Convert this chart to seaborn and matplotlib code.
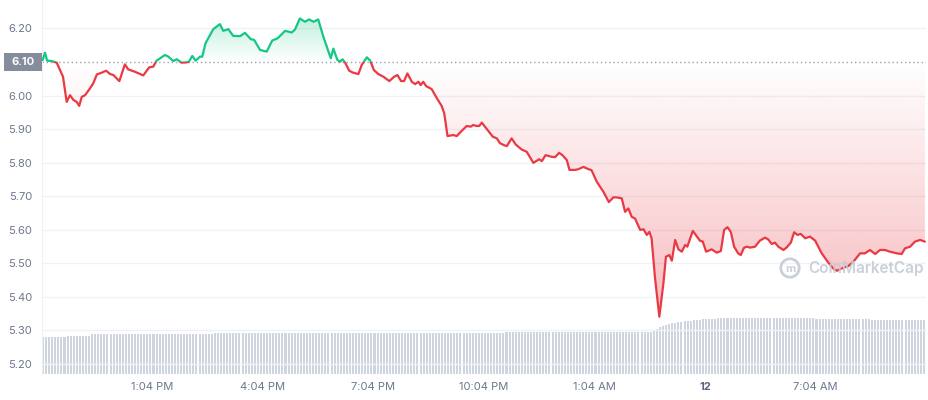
import numpy as np
import matplotlib
matplotlib.use("Agg")
import matplotlib.pyplot as plt
import matplotlib.transforms as mtransforms
from matplotlib.patches import Rectangle, Circle
from matplotlib.colors import to_rgb
import seaborn as sns

# price trace, hours since 10:04 AM
hours = [0.02, 0.08, 0.14, 0.26, 0.40, 0.49, 0.57, 0.67, 0.76, 0.85, 0.94, 1.01, 1.08, 1.17, 1.30,
         1.39, 1.49, 1.62, 1.74, 1.85, 1.94, 2.10, 2.25, 2.34, 2.52, 2.75, 2.91, 3.02, 3.11, 3.34,
         3.43, 3.56, 3.66, 3.79, 3.93, 3.99, 4.08, 4.17, 4.29, 4.35, 4.44, 4.65, 4.83, 4.92, 5.06,
         5.19, 5.38, 5.51, 5.67, 5.76, 5.92, 6.10, 6.25, 6.40, 6.60, 6.78, 6.87, 7.00, 7.14, 7.25,
         7.37, 7.50, 7.64, 7.84, 7.91, 8.02, 8.09, 8.16, 8.23, 8.34, 8.45, 8.59, 8.68, 8.82, 8.91,
         9.01, 9.13, 9.27, 9.43, 9.56, 9.65, 9.75, 9.83, 9.92, 10.04, 10.13, 10.22, 10.28, 10.35, 10.43,
         10.58, 10.72, 10.85, 10.92, 11.01, 11.17, 11.26, 11.39, 11.53, 11.64, 11.71, 11.80, 11.87, 11.94, 12.06,
         12.24, 12.35, 12.43, 12.54, 12.62, 12.75, 12.86, 13.02, 13.16, 13.34, 13.50, 13.57, 13.67, 13.84, 13.93,
         14.04, 14.13, 14.25, 14.32, 14.47, 14.56, 14.70, 14.82, 14.92, 15.06, 15.24, 15.39, 15.51, 15.60, 15.74,
         15.83, 15.92, 16.01, 16.10, 16.24, 16.33, 16.42, 16.49, 16.55, 16.64, 16.76, 16.87, 16.94, 17.03, 17.10,
         17.19, 17.28, 17.37, 17.46, 17.52, 17.67, 17.78, 17.86, 17.94, 18.03, 18.18, 18.32, 18.43, 18.52, 18.61,
         18.70, 18.79, 18.90, 18.97, 19.06, 19.15, 19.22, 19.36, 19.49, 19.63, 19.72, 19.81, 19.90, 19.99, 20.13,
         20.22, 20.33, 20.42, 20.51, 20.60, 20.72, 20.85, 20.99, 21.17, 21.35, 21.48, 21.58, 21.71, 21.89, 22.03,
         22.21, 22.34, 22.48, 22.62, 22.75, 22.89, 23.02, 23.21, 23.34, 23.43, 23.57, 23.70, 23.84, 23.97]
price = [6.106, 6.128, 6.104, 6.103, 6.098, 6.076, 6.056, 5.981, 6.001, 5.987, 5.981, 5.969, 5.996, 6.001, 6.021,
         6.036, 6.063, 6.068, 6.074, 6.064, 6.061, 6.043, 6.093, 6.078, 6.071, 6.060, 6.084, 6.086, 6.104, 6.121,
         6.116, 6.103, 6.108, 6.098, 6.099, 6.101, 6.118, 6.104, 6.116, 6.116, 6.156, 6.198, 6.213, 6.193, 6.198,
         6.178, 6.177, 6.187, 6.168, 6.166, 6.136, 6.131, 6.164, 6.171, 6.193, 6.188, 6.197, 6.230, 6.220, 6.227,
         6.220, 6.227, 6.175, 6.111, 6.140, 6.106, 6.101, 6.108, 6.098, 6.074, 6.068, 6.064, 6.091, 6.114, 6.104,
         6.076, 6.064, 6.056, 6.043, 6.056, 6.061, 6.043, 6.043, 6.066, 6.041, 6.034, 6.041, 6.031, 6.041, 6.028,
         6.019, 5.992, 5.969, 5.947, 5.879, 5.882, 5.879, 5.894, 5.909, 5.907, 5.912, 5.909, 5.909, 5.919, 5.902,
         5.877, 5.872, 5.858, 5.852, 5.849, 5.872, 5.854, 5.839, 5.832, 5.799, 5.810, 5.804, 5.822, 5.817, 5.816,
         5.829, 5.822, 5.807, 5.778, 5.778, 5.780, 5.787, 5.781, 5.777, 5.743, 5.713, 5.682, 5.696, 5.696, 5.693,
         5.653, 5.663, 5.638, 5.633, 5.599, 5.601, 5.584, 5.593, 5.574, 5.459, 5.340, 5.439, 5.519, 5.524, 5.507,
         5.569, 5.541, 5.534, 5.554, 5.549, 5.596, 5.579, 5.567, 5.564, 5.534, 5.541, 5.531, 5.536, 5.599, 5.607,
         5.593, 5.549, 5.529, 5.524, 5.546, 5.549, 5.546, 5.549, 5.567, 5.576, 5.570, 5.557, 5.561, 5.549, 5.539,
         5.547, 5.561, 5.592, 5.584, 5.587, 5.574, 5.579, 5.567, 5.529, 5.501, 5.484, 5.477, 5.484, 5.491, 5.504,
         5.529, 5.529, 5.539, 5.527, 5.539, 5.539, 5.534, 5.529, 5.527, 5.544, 5.549, 5.564, 5.569, 5.564]
open_price = 6.10

# volume, one bar every 5 minutes (arbitrary units)
volume = [
    37.3, 37.3, 37.3, 37.3, 37.3, 37.3, 37.3, 37.3, 38.3, 38.3, 38.3, 38.3,
    38.3, 38.3, 38.3, 38.3, 39.7, 39.7, 39.7, 39.7, 39.7, 39.7, 39.7, 39.7,
    39.7, 39.7, 39.7, 39.7, 39.7, 39.7, 39.7, 39.7, 39.7, 39.7, 39.7, 39.7,
    39.7, 39.7, 39.7, 39.7, 39.7, 39.7, 39.7, 39.7, 39.7, 39.7, 39.7, 39.7,
    39.7, 39.7, 39.7, 39.7, 39.7, 39.7, 39.7, 39.7, 40.7, 40.7, 40.7, 40.7,
    40.7, 40.7, 40.7, 40.7, 40.7, 40.7, 40.7, 40.7, 40.7, 40.7, 40.7, 40.7,
    40.7, 40.7, 40.7, 40.7, 40.7, 40.7, 40.7, 40.7, 40.7, 40.7, 40.7, 40.7,
    40.7, 40.7, 40.7, 40.7, 40.7, 40.7, 40.7, 40.7, 40.7, 40.7, 40.7, 40.7,
    40.7, 40.7, 40.7, 40.7, 40.7, 40.7, 40.7, 40.7, 40.7, 40.7, 40.7, 40.7,
    40.7, 40.7, 40.7, 40.7, 40.7, 40.7, 40.7, 40.7, 40.7, 40.7, 40.7, 40.7,
    40.7, 40.7, 40.7, 40.7, 40.7, 40.7, 40.7, 40.7, 40.7, 40.7, 40.7, 40.7,
    40.7, 40.7, 40.7, 40.7, 40.7, 40.7, 40.7, 40.7, 40.7, 40.7, 40.7, 40.7,
    40.7, 40.7, 40.7, 40.7, 40.7, 40.7, 40.7, 42.0, 42.0, 42.0, 42.0, 42.0,
    42.0, 42.0, 42.0, 42.0, 42.0, 42.0, 42.0, 42.0, 42.0, 42.0, 42.0, 42.0,
    42.0, 42.0, 42.0, 42.0, 42.0, 42.0, 42.0, 42.0, 42.0, 42.0, 42.0, 42.0,
    42.0, 42.0, 42.0, 42.0, 42.0, 42.0, 42.0, 42.0, 42.0, 42.0, 42.0, 42.0,
    42.0, 42.0, 42.0, 42.3, 42.3, 42.3, 42.3, 43.5, 45.5, 47.5, 48.5, 49.3,
    50.2, 50.7, 51.2, 51.7, 52.2, 52.7, 53.0, 53.3, 53.7, 54.0, 54.3, 54.6,
    54.9, 55.1, 55.3, 55.5, 55.6, 55.7, 55.8, 56.0, 56.1, 56.2, 56.3, 56.3,
    56.3, 56.3, 56.3, 56.3, 56.3, 56.3, 56.3, 56.3, 56.3, 56.3, 56.3, 56.3,
    56.3, 56.3, 56.3, 56.3, 56.3, 56.3, 56.3, 56.2, 56.2, 56.2, 56.2, 56.2,
    55.0, 55.0, 55.0, 55.0, 55.0, 55.0, 55.0, 55.0, 55.0, 55.0, 55.0, 55.0,
    54.8, 54.8, 54.8, 54.8, 54.8, 54.8, 54.5, 54.5, 54.5, 54.5, 54.5, 54.5,
    54.3, 54.3, 54.3, 54.3, 54.3, 54.3, 54.0, 54.0, 54.0, 54.0, 54.0, 54.0,
]

ytick_vals = [5.20, 5.30, 5.40, 5.50, 5.60, 5.70, 5.80, 5.90, 6.00, 6.20]
xtick_vals = [3, 6, 9, 12, 15, 18, 21]
xtick_labels = ["1:04 PM", "4:04 PM", "7:04 PM", "10:04 PM", "1:04 AM", "12", "7:04 AM"]

GREEN = "#16c784"
RED = "#ea3943"
LABEL = "#6b778c"
YMIN, YMAX = 5.169, 6.285

sns.set_style("white")
plt.rcParams["font.family"] = ["Inter", "DejaVu Sans"]

fig = plt.figure(figsize=(9.29, 4.0), dpi=100)
ax = fig.add_axes([42 / 929, 26 / 400, 884 / 929, 374 / 400])
ax2 = ax.twinx()

# volume bars underneath the price axis
n = len(volume)
bar_x = np.arange(n) * 24 / n
ax2.bar(bar_x, volume, width=24 / n * 0.66, align="edge", color="#cfd5df", linewidth=0)
ax2.set_ylim(0, 374)
ax2.set_xlim(0, 24)
ax2.set_yticks([])
for s in ax2.spines.values():
    s.set_visible(False)
ax.set_zorder(ax2.get_zorder() + 1)
ax.patch.set_visible(False)

# gradient fill between price and the open price
yy = np.linspace(YMIN, YMAX, 500)
rgba = np.zeros((500, 1, 4))
above = yy >= open_price
rgba[above, 0, :3] = to_rgb(GREEN)
rgba[~above, 0, :3] = to_rgb(RED)
rgba[above, 0, 3] = np.clip((yy[above] - open_price) * 2.0, 0, 0.3)
rgba[~above, 0, 3] = np.clip((open_price - yy[~above]) * 0.45, 0, 0.3)
im = ax.imshow(rgba, extent=[0, 24, YMIN, YMAX], origin="lower", aspect="auto",
               interpolation="bilinear", zorder=1)
poly = ax.fill_between(hours, price, open_price, color="none")
im.set_clip_path(poly.get_paths()[0], ax.transData)
poly.remove()

# grid + open price reference line
for v in ytick_vals:
    ax.axhline(v, color="#eff2f5", lw=1, zorder=0.5)
ax.axhline(open_price, color="#9aa3b5", lw=1, ls=(0, (1, 2)), zorder=2)

# price line, red below the open and green above
sns.lineplot(x=hours, y=price, ax=ax, color=RED, linewidth=1.6, estimator=None, sort=False, zorder=3)
ax.lines[-1].set_clip_path(Rectangle((0, YMIN - 1), 24, open_price - YMIN + 1, transform=ax.transData))
sns.lineplot(x=hours, y=price, ax=ax, color=GREEN, linewidth=1.6, estimator=None, sort=False, zorder=3)
ax.lines[-1].set_clip_path(Rectangle((0, open_price), 24, 1, transform=ax.transData))

ax.set_xlim(0, 24)
ax.set_ylim(YMIN, YMAX)
ax.set_xlabel("")
ax.set_ylabel("")
ax.grid(False)

ax.set_yticks(ytick_vals)
ax.set_yticklabels([f"{v:.2f}" for v in ytick_vals])
ax.set_xticks(xtick_vals)
ax.set_xticklabels(xtick_labels)
ax.tick_params(axis="y", length=0, pad=7, labelsize=8, labelcolor=LABEL)
ax.tick_params(axis="x", length=3, width=0.8, color="#b8bfcb", pad=3, labelsize=8, labelcolor=LABEL)
day_lbl = ax.get_xticklabels()[5]
day_lbl.set_fontweight("bold")
day_lbl.set_color("#58667e")

for name, s in ax.spines.items():
    s.set_visible(name == "left")
ax.spines["left"].set_color("#edf0f4")

# open price tag on the axis
trans = mtransforms.blended_transform_factory(ax.transAxes, ax.transData)
box_w = 38 / 884
box_h = 18 / 335
ax.add_patch(Rectangle((-box_w, open_price - box_h / 2), box_w, box_h, transform=trans,
                       facecolor="#858c9c", edgecolor="none", clip_on=False, zorder=5))
ax.text(-box_w / 2, open_price, f"{open_price:.2f}", transform=trans, ha="center", va="center",
        color="white", fontsize=8, fontweight="bold", zorder=6, clip_on=False)

# watermark
ax.text(0.8665, 0.283, "CoinMarketCap", transform=ax.transAxes, ha="left", va="center",
        fontsize=11, fontweight="semibold", color="#c5cbd5", alpha=0.9, zorder=7)
logo = Circle((7.90, 1.32), 0.092, transform=fig.dpi_scale_trans, fill=False,
              edgecolor="#c5cbd5", lw=2.0, alpha=0.9, zorder=7)
ax.add_artist(logo)
logo.set_clip_on(False)
ax.text(7.90, 1.315, "m", transform=fig.dpi_scale_trans, ha="center", va="center",
        fontsize=8, fontweight="bold", color="#c5cbd5", alpha=0.9, zorder=7)

fig.savefig("out.png", dpi=100)
